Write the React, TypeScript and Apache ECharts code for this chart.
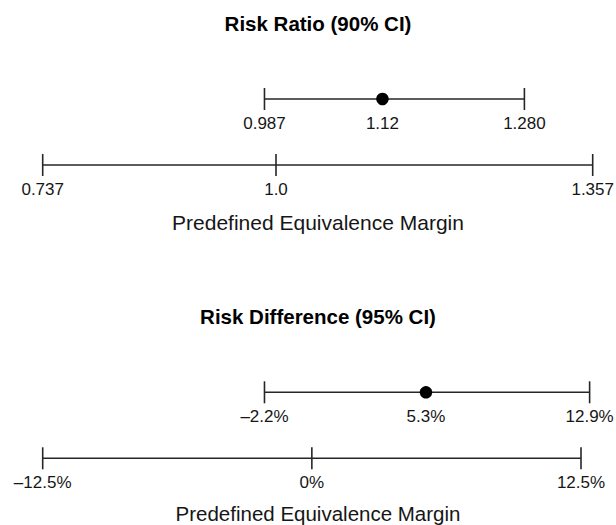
import React, { useEffect, useRef } from "react";
import * as echarts from "echarts";

// Panel 1: Risk Ratio
const rrMargin = [0.737, 1.0, 1.357];
const rrMarginLabels = ["0.737", "1.0", "1.357"];
const rrCI = [0.987, 1.28];
const rrCILabels = ["0.987", "1.280"];
const rrPoint = 1.12;
const rrPointLabel = "1.12";

// Panel 2: Risk Difference (%)
const rdMargin = [-12.5, 0, 12.5];
const rdMarginLabels = ["–12.5%", "0%", "12.5%"];
const rdCI = [-2.2, 12.9];
const rdCILabels = ["–2.2%", "12.9%"];
const rdPoint = 5.3;
const rdPointLabel = "5.3%";

const titles = ["Risk Ratio (90% CI)", "Risk Difference (95% CI)"];
const axisName = "Predefined Equivalence Margin";

const FONT = "'Liberation Sans', Arial, Helvetica, sans-serif";
const LINE = "#262626";
const TEXT = "#161616";

function panelSeries(
  idx: number,
  margin: number[],
  marginLabels: string[],
  ci: number[],
  ciLabels: string[],
  point: number,
  pointLabel: string
) {
  const label = {
    show: true,
    position: "inside",
    offset: [0, 24.6],
    formatter: "{b}",
    color: TEXT,
    fontSize: 17,
    fontFamily: FONT,
  };
  const ticks = [
    ...ci.map((v, i) => ({ name: ciLabels[i], value: [v, 1] })),
    ...margin.map((v, i) => ({ name: marginLabels[i], value: [v, 0] })),
  ];
  return [
    {
      type: "line",
      xAxisIndex: idx,
      yAxisIndex: idx,
      data: [
        [ci[0], 1],
        [ci[ci.length - 1], 1],
      ],
      symbol: "none",
      clip: false,
      lineStyle: { color: LINE, width: 1.6, opacity: 1 },
      silent: true,
    },
    {
      type: "line",
      xAxisIndex: idx,
      yAxisIndex: idx,
      data: [
        [margin[0], 0],
        [margin[margin.length - 1], 0],
      ],
      symbol: "none",
      clip: false,
      lineStyle: { color: LINE, width: 1.6, opacity: 1 },
      silent: true,
    },
    {
      type: "scatter",
      xAxisIndex: idx,
      yAxisIndex: idx,
      data: ticks,
      symbol: "rect",
      symbolSize: [1.6, 22],
      itemStyle: { color: LINE, opacity: 1 },
      clip: false,
      label,
      silent: true,
    },
    {
      type: "scatter",
      xAxisIndex: idx,
      yAxisIndex: idx,
      data: [{ name: pointLabel, value: [point, 1] }],
      symbol: "circle",
      symbolSize: 12.5,
      itemStyle: { color: "#000000", opacity: 1 },
      clip: false,
      label,
      silent: true,
      z: 3,
    },
  ];
}

export default function App() {
  const ref = useRef<HTMLDivElement>(null);
  useEffect(() => {
    if (!ref.current) return;
    const chart = echarts.init(ref.current, undefined, { renderer: "svg" });

    // pixel scale per panel: margin range spans a fixed pixel width
    const left = 42.7;
    const rrMin = Math.min(rrMargin[0], rrCI[0]);
    const rrMax = Math.max(rrMargin[rrMargin.length - 1], rrCI[rrCI.length - 1]);
    const rrPx = 550 / (rrMargin[rrMargin.length - 1] - rrMargin[0]);
    const rdMin = Math.min(rdMargin[0], rdCI[0]);
    const rdMax = Math.max(rdMargin[rdMargin.length - 1], rdCI[rdCI.length - 1]);
    const rdPx = 538.3 / (rdMargin[rdMargin.length - 1] - rdMargin[0]);

    const hiddenX = (min: number, max: number, gridIndex: number) => ({
      type: "value",
      gridIndex,
      min,
      max,
      show: false,
    });
    const hiddenY = (gridIndex: number) => ({
      type: "value",
      gridIndex,
      min: 0,
      max: 1,
      show: false,
    });
    const txt = (
      text: string,
      y: number,
      size: number,
      bold: boolean,
      fill: string
    ) => ({
      type: "text",
      x: 318,
      y,
      style: {
        text,
        fontSize: size,
        fontWeight: bold ? "bold" : "normal",
        fontFamily: FONT,
        fill,
        textAlign: "center",
        textVerticalAlign: "middle",
      },
    });
    const option = {
      animation: false,
      backgroundColor: "#ffffff",
      grid: [
        {
          left: left + (rrMin - rrMargin[0]) * rrPx,
          width: (rrMax - rrMin) * rrPx,
          top: 99,
          height: 66,
        },
        {
          left: left + (rdMin - rdMargin[0]) * rdPx,
          width: (rdMax - rdMin) * rdPx,
          top: 392.3,
          height: 66,
        },
      ],
      xAxis: [hiddenX(rrMin, rrMax, 0), hiddenX(rdMin, rdMax, 1)],
      yAxis: [hiddenY(0), hiddenY(1)],
      series: [
        ...panelSeries(0, rrMargin, rrMarginLabels, rrCI, rrCILabels, rrPoint, rrPointLabel),
        ...panelSeries(1, rdMargin, rdMarginLabels, rdCI, rdCILabels, rdPoint, rdPointLabel),
      ],
      graphic: [
        txt(titles[0], 23.4, 20.5, true, "#000000"),
        txt(titles[1], 316.7, 20.5, true, "#000000"),
        txt(axisName, 222.5, 21, false, TEXT),
        txt(axisName, 513.6, 20.5, false, TEXT),
      ],
    };
    chart.setOption(option as any);
    return () => chart.dispose();
  }, []);
  return (
    <div
      ref={ref}
      style={{ position: "fixed", left: 0, top: 0, width: 616, height: 525 }}
    />
  );
}
